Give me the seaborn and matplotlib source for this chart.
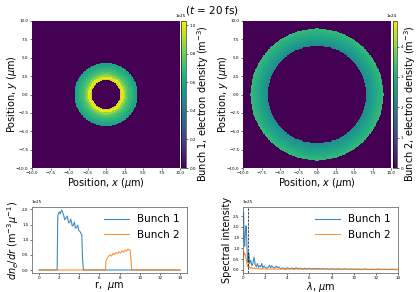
import numpy as np
import pandas as pd
import matplotlib
matplotlib.use("Agg")
import matplotlib.pyplot as plt
import seaborn as sns

# ---------------- data ----------------
pos_ticks = [-10.0, -7.5, -5.0, -2.5, 0.0, 2.5, 5.0, 7.5, 10.0]

# Bunch 1 density image: ring bands (edges in um, density in 1e25 m^-3)
b1_band_edges = [1.96, 2.15, 2.45, 2.75, 3.05, 3.35, 3.65, 3.95, 4.30]
b1_band_vals = [0.95, 1.00, 0.86, 0.76, 0.71, 0.67, 0.63, 0.60]
b1_vmax = 1.03
b1_cbar_ticks = [0.0, 0.2, 0.4, 0.6, 0.8, 1.0]

# Bunch 2 density image: ring bands (edges in um, density in 1e24 m^-3)
b2_band_edges = [6.65, 6.9, 7.15, 7.4, 7.65, 7.9, 8.15, 8.4, 8.65, 9.0]
b2_band_vals = [2.35, 2.5, 2.6, 2.7, 2.8, 2.9, 3.0, 3.1, 3.2]
b2_vmax = 4.84
b2_cbar_ticks = [0, 1, 2, 3, 4]

# dn/dr radial profiles (1e25)
r1 = [0.0, 1.80, 1.86, 1.95, 2.02, 2.10, 2.25, 2.35, 2.45, 2.55, 2.65, 2.80,
      2.95, 3.05, 3.15, 3.30, 3.40, 3.50, 3.62, 3.72, 3.84, 3.95, 4.05, 4.15,
      4.25, 4.32, 4.40, 4.50, 14.0]
n1 = [0.0, 0.0, 1.80, 1.88, 1.92, 1.85, 1.98, 1.90, 1.80, 1.66, 1.70, 1.78,
      1.55, 1.58, 1.68, 1.45, 1.48, 1.58, 1.38, 1.40, 1.48, 1.30, 1.28, 1.22,
      1.15, 0.40, 0.0, 0.0, 0.0]
r2 = [0.0, 6.60, 6.65, 6.75, 6.90, 7.05, 7.20, 7.35, 7.50, 7.65, 7.80, 7.95,
      8.10, 8.25, 8.40, 8.55, 8.70, 8.85, 8.95, 9.05, 9.15, 9.20, 14.0]
n2 = [0.0, 0.0, 0.30, 0.38, 0.45, 0.50, 0.46, 0.55, 0.51, 0.58, 0.54, 0.60,
      0.56, 0.63, 0.59, 0.66, 0.63, 0.69, 0.66, 0.65, 0.30, 0.0, 0.0]

# spectra (1e25)
lam = [0.0, 0.05, 0.1, 0.15, 0.2, 0.25, 0.3, 0.35, 0.4, 0.45, 0.5, 0.55, 0.6,
       0.7, 0.8, 0.9, 1.0, 1.1, 1.2, 1.3, 1.4, 1.5, 1.6, 1.7, 1.8, 1.9, 2.0,
       2.2, 2.4, 2.5, 2.6, 2.8, 3.0, 3.1, 3.2, 3.4, 3.6, 3.8, 4.0, 4.2, 4.4,
       4.6, 4.8, 5.0, 5.2, 5.4, 5.6, 5.8, 6.0, 6.2, 6.4, 6.6, 6.8, 7.0, 7.2,
       7.4, 7.6, 7.8, 8.0, 8.3, 8.6, 8.9, 9.2, 9.5, 9.8, 10.1, 10.4, 10.7,
       11.0, 11.3, 11.6, 11.9, 12.2, 12.5, 12.8, 13.1, 13.4, 13.7, 14.0]
spec1 = [2.30, 2.65, 1.50, 1.10, 1.60, 2.05, 2.00, 1.20, 0.50, 0.35, 0.80,
         0.70, 0.30, 0.45, 0.20, 0.30, 0.60, 0.25, 0.15, 0.30, 0.12, 0.20,
         0.15, 0.30, 0.10, 0.18, 0.12, 0.08, 0.22, 0.10, 0.20, 0.08, 0.18,
         0.10, 0.15, 0.06, 0.09, 0.05, 0.10, 0.06, 0.09, 0.05, 0.10, 0.06,
         0.08, 0.04, 0.08, 0.05, 0.08, 0.04, 0.07, 0.05, 0.07, 0.04, 0.06,
         0.04, 0.06, 0.03, 0.06, 0.03, 0.05, 0.03, 0.05, 0.03, 0.04, 0.03,
         0.04, 0.02, 0.04, 0.02, 0.03, 0.02, 0.03, 0.02, 0.03, 0.02, 0.03,
         0.02, 0.02]
spec2 = [0.50, 0.85, 0.80, 0.70, 0.75, 0.55, 0.50, 0.30, 0.20, 0.15, 0.25,
         0.10, 0.15, 0.08, 0.12, 0.06, 0.10, 0.05, 0.08, 0.05, 0.07, 0.04,
         0.06, 0.04, 0.06, 0.04, 0.05, 0.04, 0.05, 0.03, 0.05, 0.04, 0.05,
         0.03, 0.05, 0.04, 0.05, 0.03, 0.04, 0.04, 0.05, 0.03, 0.04, 0.04,
         0.05, 0.03, 0.04, 0.04, 0.05, 0.03, 0.04, 0.04, 0.04, 0.03, 0.04,
         0.04, 0.04, 0.03, 0.04, 0.03, 0.04, 0.03, 0.04, 0.03, 0.04, 0.03,
         0.03, 0.03, 0.04, 0.03, 0.03, 0.03, 0.04, 0.03, 0.03, 0.03, 0.03,
         0.03, 0.03]
lam_marker = 0.42

# ---------------- build images ----------------
N = 240
ax_coords = np.linspace(-10, 10, N)
X, Y = np.meshgrid(ax_coords, ax_coords)
R = np.hypot(X, Y)


def ring_image(edges, vals, scale):
    img = np.zeros_like(R)
    idx = np.digitize(R, edges) - 1
    inside = (idx >= 0) & (idx < len(vals))
    img[inside] = np.array(vals)[idx[inside]] * scale
    return pd.DataFrame(img)


img1 = ring_image(b1_band_edges, b1_band_vals, 1e25)
img2 = ring_image(b2_band_edges, b2_band_vals, 1e24)

# ---------------- figure ----------------
W, H = 418, 292
fig = plt.figure(figsize=(W / 100, H / 100), dpi=100)


def rect(x0, x1, y0, y1):
    return [x0 / W, 1 - y1 / H, (x1 - x0) / W, (y1 - y0) / H]


LBL = 7
TICK = 3

ax1 = fig.add_axes(rect(32, 180, 21, 168))
cax1 = fig.add_axes(rect(181, 186, 21, 168))
ax2 = fig.add_axes(rect(243, 391, 21, 168))
cax2 = fig.add_axes(rect(393, 397, 21, 168))
ax3 = fig.add_axes(rect(32, 187, 207, 273))
ax4 = fig.add_axes(rect(243, 398, 207, 273))


def draw_img(ax, cax, img, vmax, ticks, label, ylab_x, cbar_lab_x):
    sns.heatmap(img, ax=ax, cbar_ax=cax, cmap="viridis", vmin=0, vmax=vmax,
                xticklabels=False, yticklabels=False)
    pos = [(v + 10) / 20 * N for v in pos_ticks]
    labs = [f"{v:.1f}".replace("-", "\u2212") for v in pos_ticks]
    ax.set_xticks(pos)
    ax.set_xticklabels(labs, fontsize=TICK, rotation=0)
    ax.set_yticks([(10 - v) / 20 * N for v in pos_ticks])
    ax.set_yticklabels(labs, fontsize=TICK, rotation=0)
    ax.tick_params(length=1.5, width=0.4, pad=1)
    ax.set_xlabel(r"Position, $x$ ($\mu$m)", fontsize=LBL)
    ax.set_ylabel(r"Position, $y$ ($\mu$m)", fontsize=LBL)
    ax.xaxis.set_label_coords(0.5, -0.105)
    ax.yaxis.set_label_coords(ylab_x, 0.5)
    ax.xaxis.label.set_va("center")
    ax.yaxis.label.set_va("center")
    cbar = ax.collections[0].colorbar
    cbar.set_ticks(ticks)
    cbar.ax.tick_params(labelsize=TICK, length=1.5, width=0.4, pad=1)
    cbar.ax.yaxis.get_offset_text().set_fontsize(TICK)
    cbar.outline.set_linewidth(0.4)
    cbar.set_label(label, fontsize=LBL)
    cbar.ax.yaxis.set_label_coords(cbar_lab_x, 0.44)
    cbar.ax.yaxis.label.set_va("center")


draw_img(ax1, cax1, img1, b1_vmax * 1e25, [t * 1e25 for t in b1_cbar_ticks],
         r"Bunch 1, electron density (m$^{-3}$)", -0.138, 4.4)
draw_img(ax2, cax2, img2, b2_vmax * 1e24, [t * 1e24 for t in b2_cbar_ticks],
         r"Bunch 2, electron density (m$^{-3}$)", -0.132, 4.3)

# radial profiles
sns.lineplot(x=r1, y=np.array(n1) * 1e25, ax=ax3, label="Bunch 1",
             color="C0", lw=0.8, alpha=0.85)
sns.lineplot(x=r2, y=np.array(n2) * 1e25, ax=ax3, label="Bunch 2",
             color="C1", lw=0.8, alpha=0.85)
ax3.set_xticks(range(0, 15, 2))
ax3.set_yticks([0, 0.5e25, 1e25, 1.5e25, 2e25])
ax3.set_xlabel(r"r,  $\mu$m", fontsize=LBL)
ax3.set_ylabel(r"$dn_e/dr$ (m$^{-3}\mu^{-1}$)", fontsize=LBL)
ax3.yaxis.set_label_coords(-0.123, 0.5)

# spectra
sns.lineplot(x=lam, y=np.array(spec1) * 1e25, ax=ax4, label="Bunch 1",
             color="C0", lw=0.8, alpha=0.85)
sns.lineplot(x=lam, y=np.array(spec2) * 1e25, ax=ax4, label="Bunch 2",
             color="C1", lw=0.8, alpha=0.85)
ax4.axvline(lam_marker, color="k", ls="--", lw=0.5)
ax4.set_xlim(0, 14)
ax4.set_ylim(-0.14e25, 2.92e25)
ax4.set_xticks(range(0, 15, 2))
ax4.set_yticks([0, 0.5e25, 1e25, 1.5e25, 2e25, 2.5e25])
ax4.set_xlabel(r"$\lambda$, $\mu$m", fontsize=LBL)
ax4.set_ylabel("Spectral intensity", fontsize=LBL)
ax4.yaxis.set_label_coords(-0.1, 0.5)

for ax, ly in ((ax3, -0.19), (ax4, -0.205)):
    ax.tick_params(labelsize=TICK, length=1.5, width=0.4, pad=1)
    ax.yaxis.get_offset_text().set_fontsize(TICK)
    ax.xaxis.set_label_coords(0.5, ly)
    ax.xaxis.label.set_va("center")
    ax.yaxis.label.set_va("center")
    for s in ax.spines.values():
        s.set_linewidth(0.5)
        s.set_color("#555555")
    ax.legend(loc="upper right", frameon=False, fontsize=7.5,
              handlelength=2.4, borderaxespad=0.3, labelspacing=0.5)

fig.text(0.508, 0.985, r"($t$ = 20 fs)", ha="center", va="top", fontsize=7.5)

fig.savefig("out.png", dpi=100)
